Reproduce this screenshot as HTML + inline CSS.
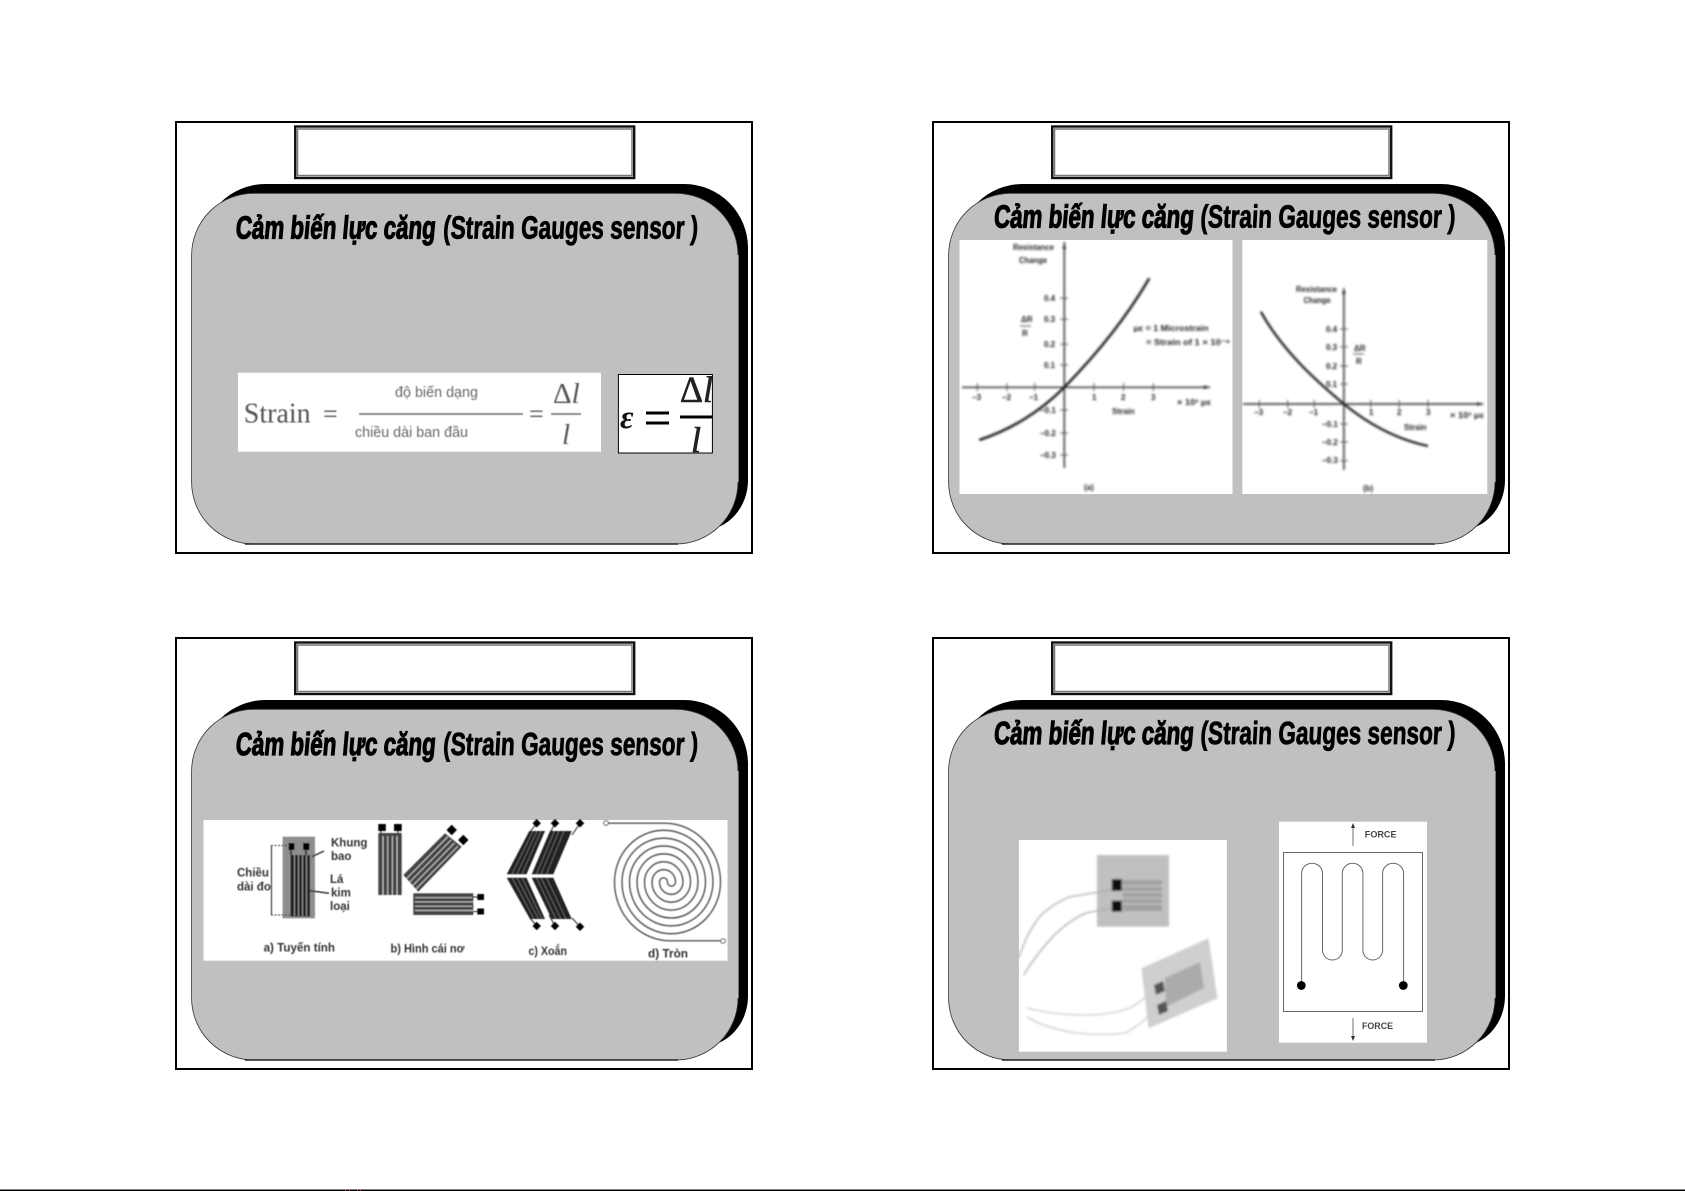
<!DOCTYPE html>
<html lang="vi">
<head>
<meta charset="utf-8">
<title>Cảm biến lực căng</title>
<style>
html,body{margin:0;padding:0;background:#fff;width:1685px;height:1191px;overflow:hidden}
svg{display:block}
.t{font-family:"Liberation Sans",sans-serif;font-weight:700;font-size:32px;fill:#000;stroke:#000;stroke-width:.8}
.t1{stroke-width:1.2}
.c{font-family:"Liberation Sans",sans-serif;font-size:8px;fill:#222;font-weight:700}
.g{font-family:"Liberation Sans",sans-serif;font-size:11.5px;fill:#333;font-weight:700}
.f{font-family:"Liberation Sans",sans-serif;font-size:9.5px;fill:#444;font-weight:700}
.s{font-family:"Liberation Serif",serif;fill:#555}
.v{font-family:"Liberation Sans",sans-serif;font-size:14.5px;fill:#666}
</style>
</head>
<body>
<svg xmlns="http://www.w3.org/2000/svg" width="1685" height="1191" viewBox="0 0 1685 1191">
<defs>
<filter id="b1" x="-5%" y="-5%" width="110%" height="110%"><feGaussianBlur stdDeviation="1.05"/></filter>
<filter id="b2" x="-5%" y="-5%" width="110%" height="110%"><feGaussianBlur stdDeviation="0.45"/></filter>
<filter id="b3" x="-5%" y="-5%" width="110%" height="110%"><feGaussianBlur stdDeviation="1"/></filter>
<g id="frame">
<rect x="176" y="122" width="576" height="431" fill="#fff" stroke="#000" stroke-width="2"/>
<rect x="295.2" y="126.5" width="339" height="51.5" fill="#fff" stroke="#111" stroke-width="2.4"/>
<rect x="297.5" y="129" width="334.5" height="46.5" fill="#fff" stroke="#777" stroke-width="1.5"/>
<path d="M265.6 184H684A64 64 0 0 1 748 248V480A45 50 0 0 1 703 530H260L201.6 480V248A64 64 0 0 1 265.6 184Z" fill="#000"/>
<rect x="191.6" y="193.3" width="546.4" height="350.7" rx="62" ry="62" fill="#c0c0c0" stroke="#333" stroke-width=".8"/>
<path d="M738 255V482" stroke="#c0c0c0" stroke-width="1.2"/>
<path d="M245 544H678" stroke="#222" stroke-width="1.5"/>
</g>
</defs>

<use href="#frame"/>
<use href="#frame" x="757"/>
<use href="#frame" y="516"/>
<use href="#frame" x="757" y="516"/>

<!-- Titles -->
<text class="t t1" transform="translate(235 238.3) skewX(-5)" textLength="200" lengthAdjust="spacingAndGlyphs">Cảm biến lực căng</text>
<text class="t" transform="translate(442.7 238.3) skewX(-3)" textLength="255" lengthAdjust="spacingAndGlyphs">(Strain Gauges sensor )</text>
<text class="t t1" transform="translate(993.2 227.7) skewX(-5)" textLength="200" lengthAdjust="spacingAndGlyphs">Cảm biến lực căng</text>
<text class="t" transform="translate(1200 227.7) skewX(-3)" textLength="255" lengthAdjust="spacingAndGlyphs">(Strain Gauges sensor )</text>
<text class="t t1" transform="translate(235 755) skewX(-5)" textLength="200" lengthAdjust="spacingAndGlyphs">Cảm biến lực căng</text>
<text class="t" transform="translate(442.7 755) skewX(-3)" textLength="255" lengthAdjust="spacingAndGlyphs">(Strain Gauges sensor )</text>
<text class="t t1" transform="translate(993.2 744) skewX(-5)" textLength="200" lengthAdjust="spacingAndGlyphs">Cảm biến lực căng</text>
<text class="t" transform="translate(1200 744) skewX(-3)" textLength="255" lengthAdjust="spacingAndGlyphs">(Strain Gauges sensor )</text>

<!-- Slide 1 formula -->
<rect x="238" y="372.7" width="363" height="79" fill="#fff"/>
<g filter="url(#b2)">
<text class="s" x="243.8" y="422.7" font-size="28">Strain</text>
<text class="s" x="323" y="422.7" font-size="26">=</text>
<text class="v" x="395" y="397" textLength="83" lengthAdjust="spacingAndGlyphs">độ biến dạng</text>
<path d="M359 414H523" stroke="#666" stroke-width="1.4"/>
<text class="v" x="355" y="437" textLength="113" lengthAdjust="spacingAndGlyphs">chiều dài ban đầu</text>
<text class="s" x="529" y="422.7" font-size="26">=</text>
<text class="s" x="553" y="403" font-size="29">Δ<tspan font-style="italic">l</tspan></text>
<path d="M551 414H581" stroke="#666" stroke-width="1.4"/>
<text class="s" x="562" y="444" font-size="29" font-style="italic">l</text>
</g>
<rect x="618.4" y="374.5" width="94" height="78.5" fill="#fff" stroke="#000" stroke-width="1"/>
<text x="620" y="428" font-family="Liberation Serif,serif" font-size="33" font-style="italic" font-weight="700" fill="#111">ε</text>
<path d="M646 413H669M646 423H669" stroke="#000" stroke-width="3"/>
<text x="680" y="402" font-family="Liberation Serif,serif" font-size="37" fill="#222" stroke="#222" stroke-width=".6" textLength="33" lengthAdjust="spacingAndGlyphs">Δ<tspan font-style="italic">l</tspan></text>
<path d="M680 417H712" stroke="#000" stroke-width="3"/>
<text x="691" y="452" font-family="Liberation Serif,serif" font-size="36" font-style="italic" fill="#222" stroke="#222" stroke-width=".6">l</text>

<!-- Slide 2 chart a -->
<rect x="959.5" y="240" width="273" height="254" fill="#fff"/>
<g filter="url(#b1)">
<path d="M1064.3 242V468M962 387.3H1210" stroke="#444" stroke-width="1.700" fill="none"/>
<path d="M1064.3 242l-2 7h4zM1210.6 387.3l-7-2v4z" fill="#444"/>
<path d="M977.3 383v8M1007 383v8M1034.7 383v8M1094 383v8M1123.6 383v8M1153.3 383v8M1060 298.3h8M1060 319.3h8M1060 344.3h8M1060 365h8M1060 410h8M1060 433h8M1060 455h8" stroke="#555" stroke-width="1"/>
<path d="M979.3 440C1010 430 1040 412 1064.3 387.3C1095 356 1125 320 1149.3 278.3" fill="none" stroke="#222" stroke-width="2.500"/>
<text class="c" x="1013" y="250" textLength="41" lengthAdjust="spacingAndGlyphs">Resistance</text>
<text class="c" x="1019" y="263" textLength="28" lengthAdjust="spacingAndGlyphs">Change</text>
<text class="c" x="1021" y="322">ΔR</text><path d="M1020 326h11" stroke="#555"/><text class="c" x="1022" y="336">R</text>
<text class="c" x="1044" y="301">0.4</text><text class="c" x="1044" y="322">0.3</text><text class="c" x="1044" y="347">0.2</text><text class="c" x="1044" y="368">0.1</text>
<text class="c" x="1040" y="413">−0.1</text><text class="c" x="1040" y="436">−0.2</text><text class="c" x="1040" y="458">−0.3</text>
<text class="c" x="972" y="400">−3</text><text class="c" x="1002" y="400">−2</text><text class="c" x="1029" y="400">−1</text>
<text class="c" x="1092" y="400">1</text><text class="c" x="1121" y="400">2</text><text class="c" x="1151" y="400">3</text>
<text class="c" x="1177" y="405" textLength="34" lengthAdjust="spacingAndGlyphs">× 10³ με</text>
<text class="c" x="1112" y="414">Strain</text>
<text class="c" x="1133.5" y="331" textLength="75" lengthAdjust="spacingAndGlyphs">με = 1 Microstrain</text>
<text class="c" x="1146" y="345" textLength="84" lengthAdjust="spacingAndGlyphs">= Strain of 1 × 10⁻⁶</text>
<text class="c" x="1084" y="490">(a)</text>
</g>

<!-- Slide 2 chart b -->
<rect x="1242.3" y="240" width="245" height="254" fill="#fff"/>
<g filter="url(#b1)">
<path d="M1343.9 289V470M1243 404H1483" stroke="#444" stroke-width="1.700" fill="none"/>
<path d="M1343.9 287l-2 7h4zM1484 404l-7-2v4z" fill="#444"/>
<path d="M1259.3 400v8M1287.7 400v8M1314.2 400v8M1370.8 400v8M1399.2 400v8M1428 400v8M1340 329h8M1340 346.7h8M1340 366h8M1340 384h8M1340 424h8M1340 442h8M1340 460.7h8" stroke="#555" stroke-width="1"/>
<path d="M1260.800 311.700C1282 350 1315 380 1343.900 404C1372 427 1400 440 1428 446" fill="none" stroke="#222" stroke-width="2.300"/>
<text class="c" x="1296" y="292" textLength="41" lengthAdjust="spacingAndGlyphs">Resistance</text>
<text class="c" x="1303.6" y="303" textLength="27" lengthAdjust="spacingAndGlyphs">Change</text>
<text class="c" x="1354" y="351">ΔR</text><path d="M1353 354h11" stroke="#555"/><text class="c" x="1356" y="364">R</text>
<text class="c" x="1326" y="332">0.4</text><text class="c" x="1326" y="350">0.3</text><text class="c" x="1326" y="369">0.2</text><text class="c" x="1326" y="387">0.1</text>
<text class="c" x="1322" y="427">−0.1</text><text class="c" x="1322" y="445">−0.2</text><text class="c" x="1322" y="463">−0.3</text>
<text class="c" x="1254" y="415">−3</text><text class="c" x="1283" y="415">−2</text><text class="c" x="1309" y="415">−1</text>
<text class="c" x="1369" y="415">1</text><text class="c" x="1397" y="415">2</text><text class="c" x="1426" y="415">3</text>
<text class="c" x="1450" y="418" textLength="34" lengthAdjust="spacingAndGlyphs">× 10³ με</text>
<text class="c" x="1404" y="430">Strain</text>
<text class="c" x="1363" y="491">(b)</text>
</g>

<!-- Slide 3 image -->
<rect x="203.5" y="820" width="524" height="140.7" fill="#fff"/>
<g filter="url(#b2)">
<!-- a) linear -->
<rect x="282.6" y="836.7" width="32.4" height="81.6" fill="#8e8e8e"/>
<rect x="288.5" y="843" width="6" height="7" fill="#000"/><rect x="303" y="843" width="6.5" height="7" fill="#000"/>
<rect x="290.5" y="855" width="19.5" height="61.5" fill="#222"/>
<path d="M294.5 855V916M298.5 855V916M302.5 855V916M306.5 855V916" stroke="#9a9a9a" stroke-width="1"/>
<path d="M291 850v5M306 850v5" stroke="#222" stroke-width="1.5"/>
<path d="M271.5 846V915" stroke="#222" stroke-width="1"/>
<path d="M271 845.5H290M271 915H290" stroke="#333" stroke-dasharray="2 1.5"/>
<path d="M312 856.7L324 851M310 890.7L329 893.3" stroke="#222" stroke-width="1.3"/>
<text class="g" x="237" y="876.6">Chiều</text><text class="g" x="237" y="890.7">dài đo</text>
<text class="g" x="331" y="846.7">Khung</text><text class="g" x="331" y="860">bao</text>
<text class="g" x="330" y="883">Lá</text><text class="g" x="331" y="896.7">kim</text><text class="g" x="330" y="910">loại</text>
<text class="g" x="263.6" y="951.7" textLength="71.4" lengthAdjust="spacingAndGlyphs">a)  Tuyến tính</text>
<text class="g" x="390.5" y="952.7" textLength="74" lengthAdjust="spacingAndGlyphs">b) Hình cái nơ</text>
<text class="g" x="528.5" y="955" textLength="38.5" lengthAdjust="spacingAndGlyphs">c) Xoắn</text>
<text class="g" x="648" y="957.7" textLength="40" lengthAdjust="spacingAndGlyphs">d)  Tròn</text>
<!-- b) rosette -->
<rect x="378.3" y="833" width="23.4" height="62" fill="#444"/>
<path d="M383 836V895M387.700 836V895M392.400 836V895M397 836V895" stroke="#ccc" stroke-width="1"/>
<rect x="378.3" y="824" width="7.500" height="7" fill="#000"/><rect x="394" y="824" width="7.700" height="7" fill="#000"/>
<path d="M381 831v3M398 831v3" stroke="#222"/>
<polygon points="445,833.300 403.300,875 418.300,891.700 461.700,846.700" fill="#444"/>
<path d="M448 836.500L406.500 878.700M451.200 839.800L409.600 882.200M454.500 843L412.800 885.500M457.800 846.300L416 889" stroke="#ccc" stroke-width="1"/>
<rect x="448" y="826.300" width="7.400" height="7.400" fill="#000" transform="rotate(45 451.700 830)"/>
<rect x="459.600" y="836.300" width="7.400" height="7.400" fill="#000" transform="rotate(45 463.300 840)"/>
<rect x="413.300" y="893.300" width="60" height="21.700" fill="#444"/>
<path d="M415 897.600H472M415 901.900H474M415 906.200H472M415 910.500H474" stroke="#ccc" stroke-width="1"/>
<rect x="477.300" y="894" width="6.700" height="6" fill="#000"/><rect x="477.300" y="908.500" width="6.700" height="6" fill="#000"/>
<path d="M473 897H478M473 911.500H478" stroke="#222"/>
<!-- c) chevron -->
<g fill="#242424">
<polygon points="529.300,831 545,831 526.500,874.300 506.700,874.300"/>
<polygon points="550,831 571.700,831 553.300,874.300 531.700,874.300"/>
<polygon points="506.700,877.700 526.500,877.700 545,919 530,919"/>
<polygon points="531.700,877.700 553.300,877.700 571.700,919 551.700,919"/>
</g>
<g stroke="#777" stroke-width=".7" fill="none">
<path d="M533 831L512 874M537 831L517 874M541 831L522 874M554.500 831L536.500 874M559 831L541 874M564 831L546.500 874"/>
<path d="M512 877.700L534 919M517 877.700L538.500 919M522 877.700L542 919M536.500 877.700L556 919M541 877.700L561 919M546.500 877.700L566 919"/>
</g>
<path d="M530 832L536.700 823.300M549 835L555 823.300M572 835L580 823.300M530 918L536.700 926M549 915L555 926M572 918L580 926.700" stroke="#222" stroke-width="1" fill="none"/>
<g fill="#000">
<rect x="533.700" y="820.300" width="6" height="6" transform="rotate(45 536.700 823.300)"/>
<rect x="552" y="820.300" width="6" height="6" transform="rotate(45 555 823.300)"/>
<rect x="577" y="820.300" width="6" height="6" transform="rotate(45 580 823.300)"/>
<rect x="533.700" y="923" width="6" height="6" transform="rotate(45 536.700 926)"/>
<rect x="552" y="923" width="6" height="6" transform="rotate(45 555 926)"/>
<rect x="577" y="923.700" width="6" height="6" transform="rotate(45 580 926.700)"/>
</g>
<!-- d) spiral -->
<g transform="translate(667.500 882) scale(1 1.05)" fill="none" stroke="#555" stroke-width="1.400">
<path d="M0 0A4 4 0 0 0 8 0A11.750 11.750 0 0 0 -15.500 0A19.250 19.250 0 0 0 23 0A26.750 26.750 0 0 0 -30.500 0A34.250 34.250 0 0 0 38 0A41.750 41.750 0 0 0 -45.500 0A49.250 49.250 0 0 0 53 0A56 56 0 0 0 -3 -56H-59"/>
<path d="M0 0A4 4 0 0 0 -8 0A11.750 11.750 0 0 0 15.500 0A19.250 19.250 0 0 0 -23 0A26.750 26.750 0 0 0 30.500 0A34.250 34.250 0 0 0 -38 0A41.750 41.750 0 0 0 45.500 0A49.250 49.250 0 0 0 -53 0A56 56 0 0 0 3 56H54"/>
</g>
<circle cx="606" cy="823" r="2.300" fill="#fff" stroke="#555"/>
<circle cx="723" cy="941" r="2.300" fill="#fff" stroke="#555"/>
</g>

<!-- Slide 4 photo -->
<rect x="1018.900" y="840" width="208" height="211.700" fill="#fff"/>
<g filter="url(#b3)">
<rect x="1097" y="855" width="72" height="71.700" fill="#c0c0c0"/>
<rect x="1122.500" y="880" width="39.500" height="31" fill="#a2a2a2"/>
<path d="M1122 886H1162M1122 892H1162M1122 898H1162M1122 904H1162" stroke="#d0d0d0" stroke-width="1"/>
<rect x="1111.800" y="879" width="10" height="12" fill="#111"/>
<rect x="1111.800" y="900.700" width="10" height="11" fill="#111"/>
<path d="M1111.800 890L1070 896.700Q1050 905 1038.600 918Q1026 935 1018.900 958M1111.800 908L1086 913Q1070 920 1054.400 935Q1038 952 1023.600 975" fill="none" stroke="#aaa" stroke-width="1.300"/>
<polygon points="1141.400,968.300 1208.600,938.300 1217.400,998.300 1148.600,1028.300" fill="#cfcfcf"/>
<polygon points="1165,978 1200,962 1204,988 1166,1007" fill="#ababab"/>
<polygon points="1154,985 1163,981 1165,991 1156,995" fill="#555"/>
<polygon points="1157,1005 1166,1001 1168,1011 1159,1015" fill="#555"/>
<path d="M1147.400 995Q1140 1003 1129.600 1008Q1110 1015 1086 1015Q1055 1015 1026.800 1008M1153 1012Q1140 1025 1125.600 1033Q1100 1036 1078 1033Q1050 1030 1026.800 1017" fill="none" stroke="#ccc" stroke-width="1.300"/>
</g>

<!-- Slide 4 diagram -->
<rect x="1279" y="821.700" width="148" height="221" fill="#fff"/>
<rect x="1283.500" y="852.500" width="139" height="159" fill="none" stroke="#666" stroke-width="1"/>
<path d="M1301.600 985V873.300A10.450 10 0 0 1 1322.500 873.300V950A9.900 10 0 0 0 1342.300 950V873.300A10.300 10 0 0 1 1362.900 873.300V950A9.850 10 0 0 0 1382.600 950V873.300A10.500 10 0 0 1 1403.600 873.300V985" fill="none" stroke="#666" stroke-width="1"/>
<circle cx="1301.300" cy="985.500" r="4.400" fill="#000"/>
<circle cx="1403.300" cy="985.500" r="4.400" fill="#000"/>
<path d="M1353 826V846M1353 1018V1038" stroke="#888" stroke-width="1.200"/>
<path d="M1353 823l-2 5h4zM1353 1041l-2 -5h4z" fill="#333"/>
<text class="f" x="1364.800" y="837.700" textLength="31.700" lengthAdjust="spacingAndGlyphs">FORCE</text>
<text class="f" x="1362" y="1029" textLength="31" lengthAdjust="spacingAndGlyphs">FORCE</text>

<!-- Bottom edge -->
<rect x="0" y="1189.500" width="1685" height="1.500" fill="#000"/>
<path d="M345 1190h1M349 1190h1M357 1190h1M360 1190h1" stroke="#d33" stroke-width="1.500"/>
</svg>
</body>
</html>
